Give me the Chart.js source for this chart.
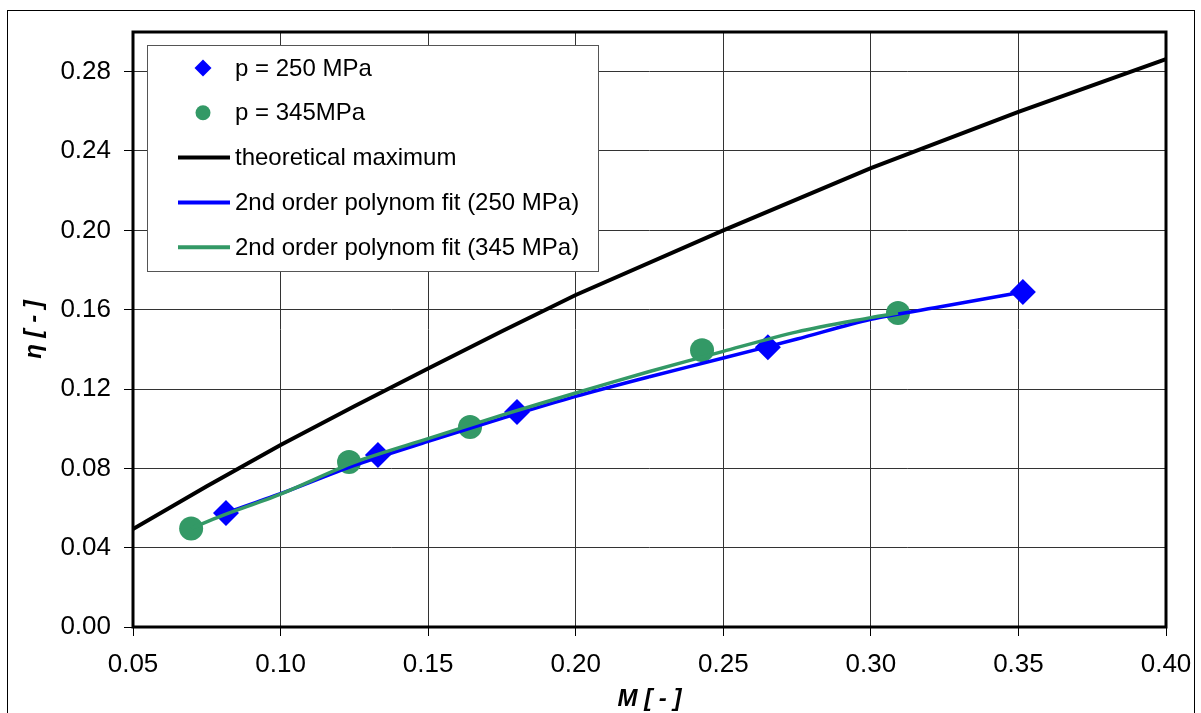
<!DOCTYPE html>
<html>
<head>
<meta charset="utf-8">
<title>Efficiency vs M</title>
<script src="https://cdn.jsdelivr.net/npm/chart.js@4.4.1/dist/chart.umd.min.js"></script>
<style>
  html, body { margin:0; padding:0; background:#fff; }
  canvas { display:block; }
</style>
</head>
<body>
<canvas id="etaChart" width="1201" height="713"></canvas>
<script>
/* ── DATA ── */
const m250   = [0.0815, 0.1330, 0.1801, 0.2651, 0.3515];
const eta250 = [0.0575, 0.0867, 0.1084, 0.1411, 0.1689];

const m345   = [0.0697, 0.1232, 0.1642, 0.2428, 0.3092];
const eta345 = [0.0497, 0.0832, 0.1008, 0.1396, 0.1583];

const mTheory   = [0.05, 0.075, 0.10, 0.125, 0.15, 0.175, 0.20, 0.25, 0.30, 0.35, 0.40];
const etaTheory = [0.0494, 0.0710, 0.0918, 0.1113, 0.1303, 0.1491, 0.1674, 0.2000, 0.2314, 0.2597, 0.2863];

const mFit250   = [0.0815, 0.10, 0.125, 0.15, 0.175, 0.20, 0.225, 0.25, 0.275, 0.30, 0.325, 0.3515];
const etaFit250 = [0.0575, 0.0672, 0.0815, 0.0936, 0.1052, 0.1163, 0.1262, 0.1356, 0.1452, 0.1552, 0.1618, 0.1689];

const mFit345   = [0.0697, 0.08, 0.10, 0.125, 0.15, 0.175, 0.20, 0.225, 0.25, 0.275, 0.30, 0.3092];
const etaFit345 = [0.0497, 0.0560, 0.0670, 0.0830, 0.0950, 0.1068, 0.1180, 0.1288, 0.1390, 0.1488, 0.1560, 0.1583];

const xTicks = { min:0.05, max:0.40, step:0.05 };
const yTicks = { min:0, max:0.30, step:0.04 };

const pts = (xs, ys) => xs.map((x,i)=>({ x, y: ys[i] }));

const BLUE  = '#0000FF';
const GREEN = '#339966';
const FONT  = '"Liberation Sans", Arial, sans-serif';

/* ── PLUGINS ── */
// white page + thin outer frame
const pageFrame = {
  id:'pageFrame',
  beforeDraw(chart) {
    const ctx = chart.ctx;
    ctx.save();
    ctx.fillStyle = '#fff';
    ctx.fillRect(0, 0, chart.width, chart.height);
    ctx.strokeStyle = '#000'; ctx.lineWidth = 1;
    ctx.strokeRect(7.5, 10.5, 1187, 760);
    ctx.restore();
  }
};

// thick box round the plot area
const plotBox = {
  id:'plotBox',
  afterDatasetsDraw(chart) {
    const { left, top, right, bottom } = chart.chartArea;
    const ctx = chart.ctx;
    ctx.save();
    ctx.strokeStyle = '#000'; ctx.lineWidth = 3;
    ctx.strokeRect(left, top, right-left, bottom-top);
    ctx.restore();
  }
};

// boxed legend in the upper left of the plot
const boxLegend = {
  id:'boxLegend',
  afterDraw(chart) {
    const ctx = chart.ctx;
    const sets = chart.data.datasets;
    ctx.save();
    ctx.fillStyle = '#fff';
    ctx.fillRect(147, 45, 451, 226);
    ctx.strokeStyle = '#555'; ctx.lineWidth = 1;
    ctx.strokeRect(147.5, 45.5, 451, 226);
    ctx.font = `24px ${FONT}`;
    ctx.textBaseline = 'middle';
    sets.forEach((ds, i) => {
      const y = 68 + i*44.8;
      if (ds.showLine) {
        ctx.strokeStyle = ds.borderColor; ctx.lineWidth = 4;
        ctx.beginPath(); ctx.moveTo(178, y); ctx.lineTo(230, y); ctx.stroke();
      } else if (ds.pointStyle === 'rectRot') {
        ctx.fillStyle = ds.backgroundColor;
        ctx.beginPath();
        ctx.moveTo(203-8.5, y); ctx.lineTo(203, y-8.5);
        ctx.lineTo(203+8.5, y); ctx.lineTo(203, y+8.5);
        ctx.closePath(); ctx.fill();
      } else {
        ctx.fillStyle = ds.backgroundColor;
        ctx.beginPath(); ctx.arc(203, y, 7.5, 0, Math.PI*2); ctx.fill();
      }
      ctx.fillStyle = '#000';
      ctx.fillText(ds.label, 235, y+1);
    });
    ctx.restore();
  }
};

/* ── CHART ── */
new Chart(document.getElementById('etaChart').getContext('2d'), {
  type:'scatter',
  data:{
    datasets:[
      { label:'p = 250 MPa', data:pts(m250, eta250), pointStyle:'rectRot',
        pointRadius:13, pointHoverRadius:13, backgroundColor:BLUE, borderColor:BLUE, borderWidth:0, order:3 },
      { label:'p = 345MPa', data:pts(m345, eta345), pointStyle:'circle',
        pointRadius:12, pointHoverRadius:12, backgroundColor:GREEN, borderColor:GREEN, borderWidth:0, order:2 },
      { label:'theoretical maximum', data:pts(mTheory, etaTheory), showLine:true,
        borderColor:'#000', backgroundColor:'#000', borderWidth:4, pointRadius:0, tension:0, order:4 },
      { label:'2nd order polynom fit (250 MPa)', data:pts(mFit250, etaFit250), showLine:true,
        borderColor:BLUE, backgroundColor:BLUE, borderWidth:3.5, pointRadius:0, tension:0.3, order:1 },
      { label:'2nd order polynom fit (345 MPa)', data:pts(mFit345, etaFit345), showLine:true,
        borderColor:GREEN, backgroundColor:GREEN, borderWidth:3.5, pointRadius:0, tension:0.3, order:0 }
    ]
  },
  options:{
    responsive:false, animation:false,
    layout:{ padding:{ left:0, top:32, right:35, bottom:0 } },
    plugins:{ legend:{ display:false }, tooltip:{ enabled:false } },
    scales:{
      x:{
        type:'linear', min:xTicks.min, max:xTicks.max,
        afterFit(s){ s.height = 86; s.paddingLeft = 0; s.paddingRight = 0; },
        ticks:{ stepSize:xTicks.step, color:'#000', padding:13,
                font:{ family:FONT, size:26 }, callback:v=>v.toFixed(2) },
        grid:{ color:'#333', lineWidth:1, tickLength:9, tickColor:'#000' },
        border:{ display:false },
        title:{ display:true, text:'M [ - ]', color:'#000', padding:{ top:0, bottom:0 },
                font:{ family:FONT, size:24, weight:'bold', style:'italic', lineHeight:1.1 } }
      },
      y:{
        type:'linear', min:yTicks.min, max:yTicks.max,
        afterFit(s){ s.width = 133; },
        afterBuildTicks(s){ s.ticks = s.ticks.filter(t=>t.value < 0.29); },
        ticks:{ stepSize:yTicks.step, color:'#000', padding:13,
                font:{ family:FONT, size:26 }, callback:v=>v.toFixed(2) },
        grid:{ color:'#333', lineWidth:1, tickLength:9, tickColor:'#000' },
        border:{ display:false },
        title:{ display:true, text:'η [ - ]', color:'#000', padding:{ top:21, bottom:0 },
                font:{ family:FONT, size:24, weight:'bold', style:'italic', lineHeight:1.1 } }
      }
    }
  },
  plugins:[pageFrame, plotBox, boxLegend]
});
</script>
</body>
</html>
